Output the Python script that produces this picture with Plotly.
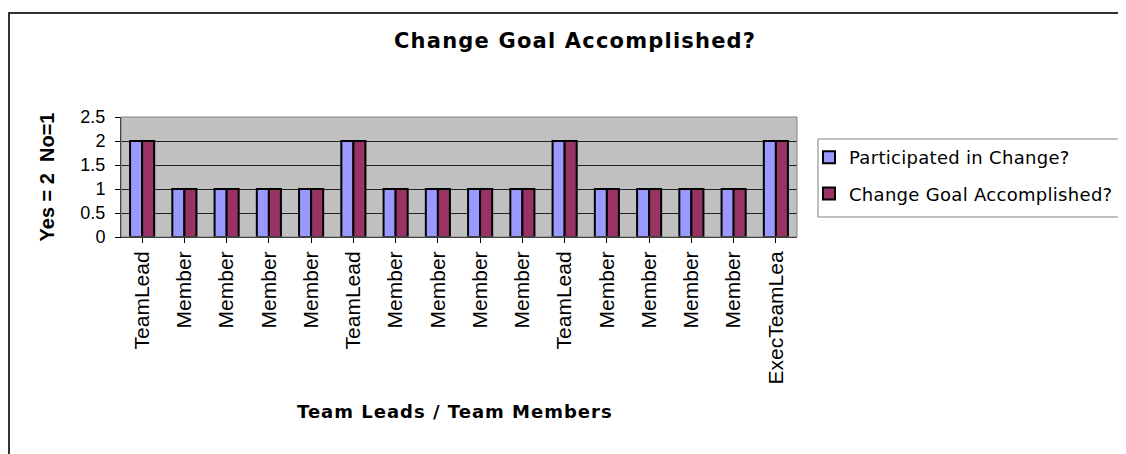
import plotly.graph_objects as go

categories = ["TeamLead", "Member", "Member", "Member", "Member",
              "TeamLead", "Member", "Member", "Member", "Member",
              "TeamLead", "Member", "Member", "Member", "Member",
              "ExecTeamLea"]
participated = [2, 1, 1, 1, 1, 2, 1, 1, 1, 1, 2, 1, 1, 1, 1, 2]
accomplished = [2, 1, 1, 1, 1, 2, 1, 1, 1, 1, 2, 1, 1, 1, 1, 2]
y_ticks = [0, 0.5, 1, 1.5, 2, 2.5]
y_ticklabels = ["0", "0.5", "1", "1.5", "2", "2.5"]

x_idx = list(range(len(categories)))

# page body has an 8px margin; work in screen pixels and convert
OFF = 8
W, H = 1126 - OFF, 454 - OFF
L, R, T, B = 121 - OFF, 797 - OFF, 117 - OFF, 237 - OFF

WIDE = "DejaVu Sans, Verdana, sans-serif"

def spaced(txt, px):
    return f"<span style='letter-spacing:{px}px'>{txt}</span>"

fig = go.Figure()
fig.add_trace(go.Bar(x=x_idx, y=participated,
                     name=spaced("Participated in Change?", 0.3),
                     legendgroup="a",
                     marker=dict(color="#9999FF", line=dict(color="black", width=2))))
fig.add_trace(go.Bar(x=x_idx, y=accomplished,
                     name=spaced("Change Goal Accomplished?", 0.3),
                     legendgroup="b",
                     marker=dict(color="#993366", line=dict(color="black", width=2))))

pw, ph = R - L, B - T
def px2x(sx):
    return (sx - OFF - L) / pw
def py2y(sy):
    return (B - (sy - OFF)) / ph

fig.update_layout(
    width=W, height=H,
    margin=dict(l=L, r=W - R, t=T, b=H - B, autoexpand=False),
    paper_bgcolor="white",
    plot_bgcolor="#C0C0C0",
    font=dict(family="Liberation Sans, Arial, sans-serif", color="black", size=18),
    barmode="group",
    bargap=0.43,
    bargroupgap=0,
    showlegend=True,
    legend=dict(x=px2x(809), y=py2y(139), xanchor="left", yanchor="top",
                borderwidth=0, bgcolor="rgba(0,0,0,0)",
                font=dict(size=18, family=WIDE), itemwidth=30, tracegroupgap=10),
    annotations=[
        dict(text="<b>" + spaced("Change Goal Accomplished?", 1.2) + "</b>",
             xref="paper", yref="paper",
             x=px2x(575), y=py2y(41), xanchor="center", yanchor="middle",
             showarrow=False, font=dict(size=21, family=WIDE)),
        dict(text="<b>" + spaced("Team Leads / Team Members", 1.0) + "</b>",
             xref="paper", yref="paper",
             x=px2x(455), y=py2y(412), xanchor="center", yanchor="middle",
             showarrow=False, font=dict(size=18, family=WIDE)),
    ],
    xaxis=dict(
        tickmode="array", tickvals=x_idx, ticktext=categories,
        tickangle=-90, range=[-0.5, len(categories) - 0.5],
        showgrid=False, ticks="outside", ticklen=5, tickcolor="#000",
        tickson="boundaries", showline=True, linecolor="#000", linewidth=1,
        tickfont=dict(size=21),
        zeroline=False,
    ),
    yaxis=dict(
        range=[0, 2.5], tickmode="array", tickvals=y_ticks, ticktext=y_ticklabels,
        showgrid=True, gridcolor="#222", gridwidth=1,
        ticks="outside", ticklen=5, tickcolor="#000",
        showline=True, linecolor="#000", linewidth=1,
        tickfont=dict(size=18), ticklabelstandoff=6,
        title=dict(text="<b>Yes = 2\u00a0 No=1</b>", standoff=20, font=dict(size=20)),
        zeroline=False,
    ),
    shapes=[
        dict(type="rect", xref="paper", yref="paper",
             x0=0, x1=1, y0=0, y1=1, line=dict(color="#808080", width=1),
             fillcolor="rgba(0,0,0,0)", layer="above"),
        dict(type="rect", xref="paper", yref="paper",
             x0=px2x(818), x1=px2x(1140), y0=py2y(217), y1=py2y(139),
             line=dict(color="#808080", width=1), fillcolor="white", layer="below"),
        dict(type="rect", xref="paper", yref="paper",
             x0=px2x(9), x1=px2x(1140), y0=py2y(470), y1=py2y(13),
             line=dict(color="#333", width=2), fillcolor="rgba(0,0,0,0)"),
    ],
)

fig.write_html("out.html")
